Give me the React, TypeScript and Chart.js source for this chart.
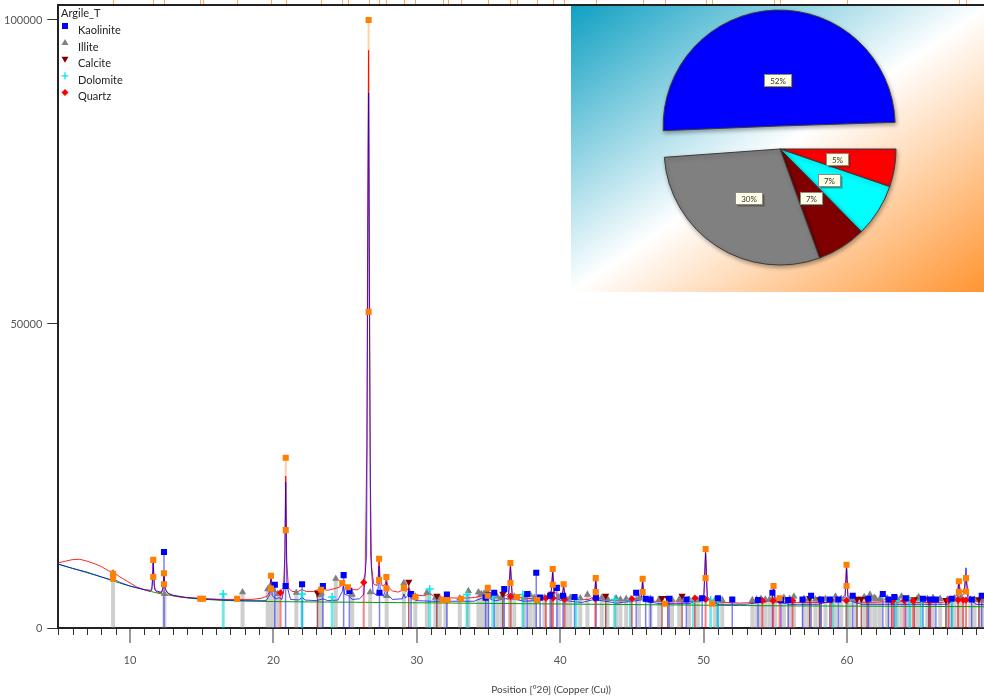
import React, { useEffect, useRef } from 'react';
import { Chart, registerables } from 'chart.js';

Chart.register(...registerables);

type Pt = [number, number];

// ---------- texts ----------
const legendTitle = 'Argile_T';
const phaseNames = ['Kaolinite', 'Illite', 'Calcite', 'Dolomite', 'Quartz'];
const phaseColors = ['#0000ff', '#808080', '#800000', '#00e8f0', '#ff0000'];
const xAxisTitle = 'Position [°2θ] (Copper (Cu))';
const xTickValues = [10, 20, 30, 40, 50, 60];
const yTickValues = [0, 50000, 100000];

// ---------- reference patterns (position °2θ, counts at marker) ----------
const kaolinite: Pt[] = [
  [12.37, 12500], [20.1, 7100], [20.85, 6900], [22.0, 7200], [23.45, 6900], [24.9, 8700], [25.3, 6100],
  [27.4, 5800], [29.6, 5600], [32.1, 5500], [34.8, 5000], [35.0, 5400], [35.4, 5800], [36.1, 6400], [37.7, 5600],
  [38.33, 9100], [38.6, 5000], [39.3, 5300], [39.77, 6600], [40.2, 5300], [41.0, 5100], [42.5, 5000], [45.3, 5800],
  [45.96, 4800], [46.3, 4700], [47.6, 4800], [48.8, 4700], [49.9, 4900], [51.0, 4900], [52.0, 4700], [53.8, 4600],
  [54.8, 5800], [55.4, 4600], [55.9, 4600], [56.9, 4700], [57.5, 5300], [58.2, 4700], [58.8, 4700], [59.4, 4700],
  [60.4, 5300], [61.5, 4800], [62.5, 5600], [62.9, 4700], [63.3, 5100], [64.1, 4900], [65.3, 4800], [65.8, 4700],
  [66.2, 4700], [67.3, 4800], [68.7, 4700], [69.4, 5300],
];
const illite: Pt[] = [
  [8.82, 9000], [12.4, 5600], [17.85, 5900], [19.6, 6400], [19.75, 6800], [20.0, 6300], [20.3, 5600],
  [21.6, 5800], [23.2, 5400], [23.35, 5700], [24.35, 8100], [25.5, 5500], [26.75, 5900], [27.9, 5300],
  [29.1, 7400], [29.9, 5200], [30.7, 5800], [31.3, 5000], [31.6, 4900], [32.0, 5000], [33.0, 4900], [33.6, 6100],
  [34.3, 5900], [34.5, 5600], [34.7, 5700], [34.9, 6000], [35.6, 5200], [35.9, 5000], [36.5, 5000], [36.8, 5200],
  [37.5, 5000], [37.9, 5500], [38.2, 5000], [38.9, 5000], [39.9, 5100], [40.4, 4900], [40.7, 5000], [41.4, 4900],
  [41.9, 5500], [42.9, 5000], [43.3, 4800], [43.9, 4900], [44.2, 4700], [44.6, 4800], [45.5, 4900], [46.3, 4800],
  [46.9, 4700], [47.8, 4700], [48.3, 4700], [49.0, 4700], [49.6, 4600], [50.8, 4600], [51.3, 4600],
  [53.4, 4600], [53.7, 4700], [54.0, 4800], [54.3, 4700], [54.6, 4700], [55.0, 4600], [55.6, 5000],
  [56.0, 4800], [56.3, 5200], [57.0, 4800], [57.3, 4700], [57.8, 4700], [58.1, 4700], [58.5, 4800], [59.2, 5200],
  [59.6, 4800], [60.2, 4700], [60.6, 4700], [61.2, 5100], [61.6, 5500], [61.9, 5000], [62.0, 4800], [62.3, 4800],
  [62.8, 4900], [63.5, 4800], [63.8, 5200], [64.3, 4800], [64.9, 4800], [65.0, 5100], [65.6, 4800], [66.0, 5000],
  [66.5, 4800], [67.0, 4700], [67.5, 4900], [67.8, 4800], [68.0, 4800], [68.6, 4700], [68.9, 4700], [69.3, 5000],
  [69.6, 4700],
];
const calcite: Pt[] = [
  [23.07, 5800], [29.44, 7600], [31.4, 5300], [36.0, 5600], [39.4, 5600], [43.17, 5300], [47.1, 4900],
  [47.5, 4900], [48.5, 5300], [57.4, 4900], [58.1, 4700], [60.7, 4800], [61.0, 4800], [61.4, 4700],
  [63.1, 4600], [64.7, 4700], [65.7, 4700], [66.9, 4600], [69.2, 4700],
];
const dolomite: Pt[] = [
  [16.5, 5600], [22.0, 5600], [24.1, 5100], [30.9, 6400], [33.5, 5500], [35.3, 5200], [37.4, 5500],
  [41.1, 4900], [43.8, 4700], [44.9, 4700], [49.3, 4600], [50.5, 4600], [51.0, 4700], [59.0, 4500],
  [60.0, 4500], [63.4, 4500], [64.4, 4500], [65.2, 4500], [67.3, 4500],
];
const quartz: Pt[] = [
  [20.5, 5800], [26.3, 7500], [36.54, 5200], [39.0, 4900], [39.5, 4900], [40.3, 4700], [42.45, 4800],
  [45.0, 4800], [49.4, 4900], [50.14, 4700], [54.1, 4500], [54.85, 4500], [55.3, 4500], [56.2, 4500],
  [58.9, 4600], [59.96, 4500], [63.2, 4500], [64.0, 4500], [64.6, 4500], [65.8, 4500], [67.1, 4600],
  [67.75, 4600], [68.1, 4600], [68.3, 4600],
];

// ---------- peak list (orange) ----------
const peakPos = [8.82, 11.62, 12.37, 14.9, 15.1, 17.47, 19.83, 20.86, 23.33, 24.8, 25.2, 26.64, 27.37, 27.88,
  29.1, 29.9, 31.8, 32.15, 33.1, 34.95, 36.53, 37.0, 38.4, 39.48, 40.24, 42.48, 45.75, 47.3, 50.14, 50.6,
  54.88, 55.3, 59.97, 67.8, 68.3];
const peakTop = [8900, 11200, 9000, 4800, 4800, 4800, 8600, 28000, 6300, 7400, 6700, 100000, 11400, 8400,
  6600, 5100, 4600, 4600, 4800, 6600, 10700, 5100, 4600, 9700, 7200, 8200, 8100, 4000, 13000, 4000,
  6900, 4900, 10400, 7700, 8200];
const peakHalf: (number | null)[] = [8100, 8400, 7200, null, null, null, 6500, 16100, null, null, null, 52000, 7900, 6500,
  null, null, null, null, null, 5300, 7400, null, null, 7100, null, 5900, 5900, null, 8200, null,
  null, null, 6900, 5900, 6000];

// ---------- profiles ----------
const observed: Pt[] = [
  [5.0, 10700], [5.5, 11000], [6.0, 11250], [6.5, 11300], [7.0, 11000], [7.5, 10600], [8.0, 10100], [8.5, 9400],
  [8.7, 9300], [8.82, 9500], [8.95, 9000], [9.3, 8400], [9.8, 7700], [10.5, 6700], [11.0, 6300], [11.4, 6000],
  [11.52, 6300], [11.62, 11000], [11.72, 6300], [11.9, 5900], [12.2, 5800], [12.28, 6300], [12.37, 9000],
  [12.47, 6300], [12.7, 5600], [13.0, 5300], [13.5, 5100], [14.0, 5000], [14.9, 4900], [15.5, 4800],
  [16.5, 4700], [17.5, 4700], [18.5, 4700], [19.2, 4900], [19.6, 5300], [19.75, 6200], [19.83, 8500],
  [19.95, 6200], [20.2, 5900], [20.5, 6100], [20.7, 6600], [20.8, 12000], [20.86, 25000], [20.93, 11000],
  [21.05, 6600], [21.3, 6000], [21.7, 6000], [22.0, 6300], [22.3, 6000], [22.8, 6000], [23.1, 6300],
  [23.4, 6400], [23.8, 6200], [24.3, 6500], [24.7, 6800], [24.85, 7600], [25.0, 6900], [25.2, 6800],
  [25.5, 6300], [25.9, 6300], [26.2, 7000], [26.4, 9000], [26.52, 30000], [26.58, 70000], [26.64, 95000],
  [26.7, 60000], [26.76, 25000], [26.85, 10000], [27.0, 7200], [27.2, 7000], [27.3, 8000], [27.37, 11300],
  [27.45, 7800], [27.6, 6900], [27.8, 7200], [27.88, 8300], [27.98, 6800], [28.3, 6100], [28.7, 5900],
  [29.0, 6200], [29.1, 6600], [29.25, 6000], [29.44, 6700], [29.6, 5700], [30.0, 5400], [30.5, 5300],
  [30.9, 5700], [31.2, 5200], [32.0, 5000], [33.0, 4900], [34.0, 5000], [34.6, 5300], [34.95, 6600],
  [35.1, 5300], [35.5, 5000], [36.0, 5100], [36.4, 5600], [36.53, 10700], [36.65, 5600], [37.0, 5100],
  [37.5, 4900], [38.4, 4800], [39.2, 5000], [39.38, 6200], [39.48, 9700], [39.58, 6000], [39.9, 5200],
  [40.15, 5400], [40.24, 7200], [40.35, 5000], [41.0, 4700], [42.0, 4700], [42.38, 5200], [42.48, 8200],
  [42.58, 5000], [43.2, 4600], [44.0, 4500], [45.0, 4500], [45.65, 5200], [45.75, 8100], [45.85, 4900],
  [46.5, 4400], [47.5, 4300], [48.5, 4300], [49.5, 4400], [50.02, 5500], [50.14, 12800], [50.26, 5200],
  [50.6, 4300], [51.5, 4200], [52.5, 4100], [53.5, 4200], [54.4, 4300], [54.78, 5000], [54.88, 6900],
  [54.98, 4800], [55.3, 4800], [55.6, 4300], [56.5, 4200], [57.5, 4200], [58.5, 4200], [59.5, 4400],
  [59.87, 5500], [59.97, 10400], [60.07, 5200], [60.5, 4300], [61.5, 4200], [62.5, 4300], [63.5, 4200],
  [64.0, 4500], [64.5, 4200], [65.5, 4200], [66.5, 4200], [67.3, 4400], [67.68, 5500], [67.8, 7700],
  [67.95, 5600], [68.2, 6600], [68.3, 8200], [68.45, 5400], [68.8, 4400], [69.3, 4300], [70.0, 4200],
];
const calculated: Pt[] = [
  [5.0, 10500], [6.0, 9800], [7.0, 9200], [8.0, 8400], [8.6, 8000], [8.75, 8300], [8.82, 8700], [8.9, 8000],
  [9.3, 7500], [10.0, 6900], [11.0, 6300], [11.5, 6200], [11.56, 7000], [11.62, 10800], [11.68, 7000],
  [11.8, 6100], [12.2, 5900], [12.3, 6600], [12.37, 8800], [12.44, 6600], [12.6, 5800], [13.0, 5400],
  [14.0, 5000], [15.0, 4800], [16.5, 4600], [18.0, 4500], [19.5, 4500], [19.75, 5500], [19.83, 8000],
  [19.92, 5300], [20.2, 4800], [20.4, 5000], [20.6, 4700], [20.78, 7000], [20.86, 24000], [20.94, 7000],
  [21.2, 4700], [21.8, 4600], [22.0, 5100], [22.2, 4600], [23.0, 4500], [23.45, 4800], [23.8, 4500],
  [24.5, 4600], [24.8, 6000], [24.88, 7000], [24.98, 5500], [25.2, 5400], [25.5, 4700], [26.0, 4800],
  [26.3, 5500], [26.5, 12000], [26.58, 60000], [26.64, 88000], [26.7, 50000], [26.78, 12000], [26.95, 5800],
  [27.2, 5400], [27.3, 6500], [27.37, 10200], [27.45, 6300], [27.65, 5200], [27.8, 6000], [27.88, 7600],
  [27.97, 5500], [28.3, 4700], [29.0, 4800], [29.1, 5600], [29.2, 4900], [29.35, 5300], [29.44, 6500],
  [29.55, 5000], [30.0, 4500], [31.0, 4400], [32.0, 4400], [34.0, 4400], [34.85, 5200], [34.95, 5900],
  [35.1, 4800], [35.5, 4500], [36.4, 4900], [36.53, 10000], [36.66, 4800], [37.5, 4400], [38.3, 4500],
  [39.35, 5200], [39.48, 9100], [39.6, 5000], [40.1, 4500], [40.24, 6800], [40.36, 4500], [41.5, 4200],
  [42.38, 4700], [42.48, 7800], [42.58, 4600], [44.0, 4100], [45.65, 4600], [45.75, 7500], [45.85, 4400],
  [47.0, 4000], [49.0, 4000], [50.02, 5000], [50.14, 12300], [50.26, 4800], [51.0, 3900], [53.0, 3900],
  [54.78, 4500], [54.88, 6500], [54.98, 4300], [56.0, 3900], [58.0, 3900], [59.87, 5000], [59.97, 9800],
  [60.07, 4600], [61.0, 3900], [63.0, 3900], [65.0, 3900], [67.0, 3900], [67.68, 5000], [67.8, 7200],
  [67.92, 5000], [68.18, 5800], [68.3, 9900], [68.42, 5000], [69.0, 3900], [70.0, 3800],
];
const background: Pt[] = [
  [5, 10500], [6, 9800], [7, 9100], [8, 8400], [9, 7600], [10, 6900], [11, 6300], [12, 5700], [13, 5300],
  [14, 4950], [15, 4750], [17, 4500], [20, 4350], [25, 4250], [30, 4150], [35, 4050], [40, 3950],
  [45, 3850], [50, 3750], [55, 3650], [60, 3600], [65, 3550], [70, 3500],
];

// ---------- inset pie ----------
const pieLabels = ['Quartz', 'Dolomite', 'Calcite', 'Illite', 'Kaolinite'];
const pieValues = [5.3, 7.4, 6.9, 29.6, 51.5];
const pieText = ['5%', '7%', '7%', '30%', '52%'];
const pieColors = ['#ff0000', '#00ffff', '#800000', '#808080', '#0000ff'];
const pieOffsets = [0, 0, 0, 0, 92];
const PIE_RADIUS = 116;

const FONT = 'Lato';

const toXY = (pts: Pt[]) => pts.map(([x, y]) => ({ x, y }));
const sticks = (pts: Pt[]) =>
  pts.flatMap(([x, y]) => [{ x, y: 0 }, { x, y }, { x, y: null as any }]);

function drawShape(ctx: CanvasRenderingContext2D, kind: number, x: number, y: number, color: string) {
  ctx.save();
  ctx.fillStyle = color;
  ctx.strokeStyle = color;
  ctx.beginPath();
  if (kind === 0) {
    ctx.fillRect(x - 3, y - 3, 6, 6);
  } else if (kind === 1) {
    ctx.moveTo(x, y - 3.5); ctx.lineTo(x + 3.5, y + 2.5); ctx.lineTo(x - 3.5, y + 2.5); ctx.closePath(); ctx.fill();
  } else if (kind === 2) {
    ctx.moveTo(x, y + 3.5); ctx.lineTo(x + 3.5, y - 2.5); ctx.lineTo(x - 3.5, y - 2.5); ctx.closePath(); ctx.fill();
  } else if (kind === 3) {
    ctx.lineWidth = 1.3;
    ctx.moveTo(x - 3.5, y); ctx.lineTo(x + 3.5, y); ctx.moveTo(x, y - 3.5); ctx.lineTo(x, y + 3.5); ctx.stroke();
  } else {
    ctx.moveTo(x, y - 3.5); ctx.lineTo(x + 3.5, y); ctx.lineTo(x, y + 3.5); ctx.lineTo(x - 3.5, y); ctx.closePath(); ctx.fill();
  }
  ctx.restore();
}

const mainDecor = {
  id: 'mainDecor',
  afterDraw(chart: any) {
    const { ctx, chartArea } = chart;
    const xs = chart.scales.x;
    ctx.save();
    ctx.strokeStyle = '#222';
    ctx.lineWidth = 2;
    ctx.beginPath();
    ctx.moveTo(chartArea.left, chartArea.top);
    ctx.lineTo(chartArea.right, chartArea.top);
    ctx.stroke();
    ctx.strokeStyle = 'rgba(255,140,40,0.75)';
    ctx.lineWidth = 1;
    peakPos.forEach((p) => {
      const px = Math.round(xs.getPixelForValue(p)) + 0.5;
      ctx.beginPath();
      ctx.moveTo(px, 0);
      ctx.lineTo(px, chartArea.top - 1);
      ctx.stroke();
    });
    for (let v = 5; v <= 73; v++) {
      const px = Math.round(xs.getPixelForValue(v));
      const major = v % 10 === 0;
      ctx.strokeStyle = major ? '#999' : '#333';
      ctx.lineWidth = major ? 2 : 1;
      ctx.beginPath();
      ctx.moveTo(px + (major ? 0 : 0.5), chartArea.bottom + 1);
      ctx.lineTo(px + (major ? 0 : 0.5), chartArea.bottom + (major ? 15 : 7));
      ctx.stroke();
    }
    ctx.fillStyle = '#222';
    ctx.font = `11px ${FONT}`;
    ctx.textAlign = 'left';
    ctx.textBaseline = 'middle';
    ctx.fillText(legendTitle, 61, 13.5);
    phaseNames.forEach((n, i) => {
      const ty = 30.5 + i * 16.6;
      drawShape(ctx, i, 65, ty - 4.5, phaseColors[i]);
      ctx.fillStyle = '#222';
      ctx.fillText(n, 78, ty);
    });
    ctx.restore();
  },
};

// Chart.js grows an offset arc's radius by offset/4; keep exploded slices at the common radius.
const pieShadow = {
  id: 'pieShadow',
  beforeDatasetsDraw(chart: any) {
    const meta = chart.getDatasetMeta(0);
    meta.data.forEach((arc: any, i: number) => {
      const o = pieOffsets[i] / 4;
      const fix = 1 - Math.sin(Math.min(Math.PI, arc.circumference || 0));
      arc.outerRadius = PIE_RADIUS - o * fix;
    });
    const c = chart.ctx;
    c.save();
    c.shadowColor = 'rgba(0,0,0,0.35)';
    c.shadowBlur = 4;
    c.shadowOffsetX = 1;
    c.shadowOffsetY = 2;
  },
  afterDatasetsDraw(chart: any) {
    chart.ctx.restore();
  },
};

const pieLabelPlugin = {
  id: 'pieLabelPlugin',
  afterDatasetsDraw(chart: any) {
    const ctx = chart.ctx;
    const meta = chart.getDatasetMeta(0);
    ctx.save();
    ctx.font = `8px ${FONT}`;
    ctx.textAlign = 'center';
    ctx.textBaseline = 'middle';
    meta.data.forEach((arc: any, i: number) => {
      const { x, y, startAngle, endAngle } = arc.getProps(['x', 'y', 'startAngle', 'endAngle'], true);
      const mid = (startAngle + endAngle) / 2;
      const d = PIE_RADIUS * 0.5 + (pieOffsets[i] / 4) * 0.5;
      const lx = x + Math.cos(mid) * d;
      const ly = y + Math.sin(mid) * d;
      const t = pieText[i];
      const w = Math.round(ctx.measureText(t).width + 11);
      const h = 12;
      const bx = Math.round(lx - w / 2) + 0.5;
      const by = Math.round(ly - h / 2) + 0.5;
      ctx.fillStyle = 'rgba(60,40,30,0.45)';
      ctx.fillRect(bx + 2, by + 2, w, h);
      ctx.fillStyle = '#ffffe8';
      ctx.fillRect(bx, by, w, h);
      ctx.strokeStyle = '#8a8a80';
      ctx.lineWidth = 1;
      ctx.strokeRect(bx, by, w, h);
      ctx.fillStyle = '#333';
      ctx.fillText(t, bx + w / 2, by + h / 2 + 0.5);
    });
    ctx.restore();
  },
};

function markerDs(label: string, pts: Pt[], style: string, color: string, r: number, order: number, rot = 0) {
  return {
    label,
    data: toXY(pts),
    showLine: false,
    pointStyle: style,
    pointRadius: r,
    pointRotation: rot,
    backgroundColor: color,
    borderColor: color,
    borderWidth: style === 'cross' ? 1.5 : 0,
    order,
  };
}

function lineDs(label: string, data: any[], color: string, width: number, order: number, tension = 0) {
  return {
    label,
    data,
    showLine: true,
    spanGaps: false,
    pointRadius: 0,
    borderColor: color,
    backgroundColor: color,
    borderWidth: width,
    tension,
    fill: false,
    order,
  };
}

export default function App() {
  const mainRef = useRef<HTMLCanvasElement>(null);
  const pieRef = useRef<HTMLCanvasElement>(null);

  useEffect(() => {
    document.body.style.margin = '0';
    const stems = peakPos.flatMap((x, i) =>
      peakHalf[i] == null ? [] : [{ x, y: peakHalf[i] }, { x, y: peakTop[i] }, { x, y: null as any }]
    );
    const main = new Chart(mainRef.current!, {
      type: 'scatter',
      data: {
        datasets: [
          markerDs('Peaks', peakPos.map((p, i) => [p, peakTop[i]] as Pt).concat(
            peakPos.map((p, i) => [p, peakHalf[i]] as Pt).filter((q) => q[1] != null)), 'rect', '#ff8000', 4.3, 1),
          markerDs('Kaolinite', kaolinite, 'rect', '#0000ff', 4.3, 2),
          markerDs('Quartz', quartz, 'rectRot', '#ff0000', 3.6, 3),
          markerDs('Dolomite', dolomite, 'cross', '#00e8f0', 4, 4),
          markerDs('Calcite', calcite, 'triangle', '#800000', 4.2, 5, 180),
          markerDs('Illite', illite, 'triangle', '#808080', 4.2, 6),
          lineDs('Calculated', toXY(calculated), 'rgba(0,0,255,0.75)', 1, 7),
          lineDs('Observed', toXY(observed), 'rgba(255,0,0,0.85)', 1, 8),
          lineDs('Stems', stems, 'rgba(255,150,60,0.45)', 2, 9),
          lineDs('Background', toXY(background), '#009a00', 1, 10, 0.4),
          lineDs('QuartzLines', sticks(quartz), 'rgba(255,0,0,0.5)', 2, 11),
          lineDs('DolomiteLines', sticks(dolomite), 'rgba(0,210,210,0.55)', 3, 12),
          lineDs('CalciteLines', sticks(calcite), 'rgba(128,0,0,0.6)', 1.5, 13),
          lineDs('KaoliniteLines', sticks(kaolinite), 'rgba(40,40,255,0.6)', 1.5, 14),
          lineDs('IlliteLines', sticks(illite), 'rgba(140,140,140,0.42)', 4, 15),
        ] as any,
      },
      options: {
        animation: false,
        responsive: false,
        devicePixelRatio: 1,
        events: [],
        layout: { autoPadding: false, padding: { top: 5, left: 0, right: 0, bottom: 0 } },
        plugins: { legend: { display: false }, tooltip: { enabled: false } },
        scales: {
          x: {
            type: 'linear',
            min: 5,
            max: 73.74,
            afterBuildTicks: (s: any) => { s.ticks = xTickValues.map((v) => ({ value: v })); },
            afterFit: (s: any) => { s.height = 71; s.paddingLeft = 0; s.paddingRight = 0; },
            grid: { display: false },
            border: { display: true, color: '#222', width: 2 },
            ticks: {
              color: '#555', font: { family: FONT, size: 11 }, padding: 18, maxRotation: 0, autoSkip: false,
              callback: (v: any) => String(v),
            },
            title: {
              display: true, text: xAxisTitle, color: '#444', font: { family: FONT, size: 10 },
              padding: { top: 0, bottom: 3 },
            },
          },
          y: {
            type: 'linear',
            min: 0,
            max: 102467,
            afterBuildTicks: (s: any) => { s.ticks = yTickValues.map((v) => ({ value: v })); },
            afterFit: (s: any) => { s.width = 58.3; s.paddingTop = 0; s.paddingBottom = 0; },
            grid: { drawOnChartArea: false, drawTicks: true, tickLength: 11, color: '#333', tickColor: '#333' },
            border: { display: true, color: '#222', width: 2 },
            ticks: { color: '#555', font: { family: FONT, size: 11 }, padding: 5, callback: (v: any) => String(v) },
          },
        },
      } as any,
      plugins: [mainDecor],
    });

    const pie = new Chart(pieRef.current!, {
      type: 'pie',
      data: {
        labels: pieLabels,
        datasets: [{
          data: pieValues,
          backgroundColor: pieColors,
          borderColor: '#3a3a3a',
          borderWidth: 1,
          offset: pieOffsets,
          radius: PIE_RADIUS,
        } as any],
      },
      options: {
        animation: false,
        responsive: false,
        devicePixelRatio: 1,
        events: [],
        rotation: 90,
        layout: { autoPadding: false, padding: 0 },
        plugins: { legend: { display: false }, tooltip: { enabled: false } },
      } as any,
      plugins: [pieShadow, pieLabelPlugin],
    });

    return () => { main.destroy(); pie.destroy(); };
  }, []);

  return (
    <div style={{ position: 'relative', width: 984, height: 699, overflow: 'hidden', background: '#fff' }}>
      <canvas ref={mainRef} width={1044} height={699}
        style={{ position: 'absolute', left: 0, top: 0, width: 1044, height: 699 }} />
      <div style={{
        position: 'absolute', left: 571, top: 6, width: 418, height: 286,
        background: 'linear-gradient(to bottom right, #10a0c2 0%, #ffffff 50%, #ff9430 100%)',
      }}>
        <canvas ref={pieRef} width={418} height={286} style={{ display: 'block', width: 418, height: 286 }} />
      </div>
    </div>
  );
}
